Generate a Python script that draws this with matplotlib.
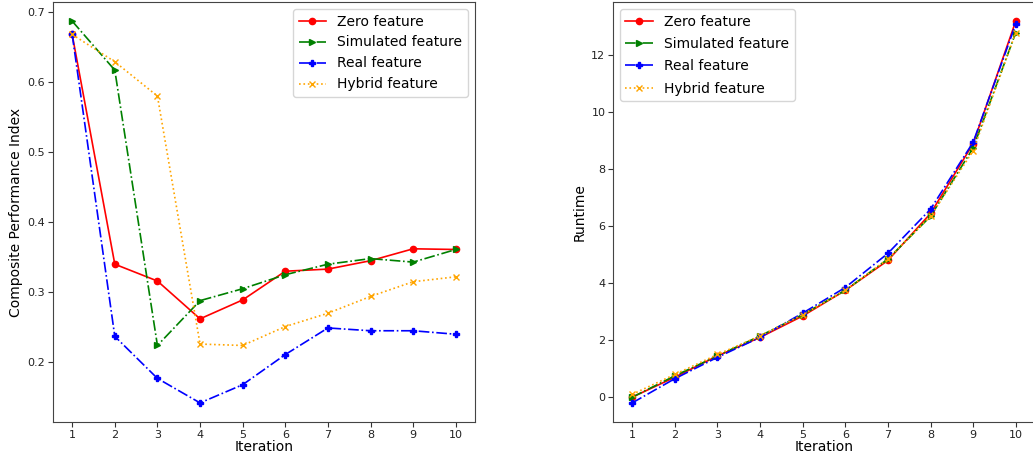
import matplotlib
matplotlib.use('Agg')
import matplotlib.pyplot as plt

iterations = list(range(1, 11))

# composite performance index per iteration
cpi_zero = [0.668, 0.340, 0.316, 0.262, 0.289, 0.330, 0.333, 0.345, 0.362, 0.361]
cpi_simulated = [0.687, 0.617, 0.224, 0.288, 0.305, 0.325, 0.340, 0.348, 0.343, 0.361]
cpi_real = [0.668, 0.237, 0.177, 0.142, 0.168, 0.211, 0.249, 0.245, 0.245, 0.240]
cpi_hybrid = [0.668, 0.629, 0.580, 0.226, 0.224, 0.251, 0.270, 0.294, 0.315, 0.322]

# runtime per iteration
rt_zero = [0.0, 0.70, 1.45, 2.10, 2.85, 3.75, 4.80, 6.45, 8.90, 13.20]
rt_simulated = [0.0, 0.75, 1.45, 2.15, 2.90, 3.75, 4.85, 6.35, 8.75, 12.80]
rt_real = [-0.2, 0.65, 1.40, 2.10, 2.95, 3.85, 5.05, 6.60, 8.95, 13.10]
rt_hybrid = [0.1, 0.80, 1.50, 2.15, 2.90, 3.75, 4.85, 6.35, 8.65, 12.80]

labels = ['Zero feature', 'Simulated feature', 'Real feature', 'Hybrid feature']
styles = [
    dict(color='red', linestyle='-', marker='o'),
    dict(color='green', linestyle='-.', marker='>'),
    dict(color='blue', linestyle='-.', marker='P'),
    dict(color='orange', linestyle=':', marker='x'),
]

fig = plt.figure(figsize=(10.33, 4.61), dpi=100)
ax1 = fig.add_axes([0.0513, 0.0846, 0.4085, 0.911])
ax2 = fig.add_axes([0.5934, 0.0846, 0.4085, 0.911])

for ys, lab, st in zip([cpi_zero, cpi_simulated, cpi_real, cpi_hybrid], labels, styles):
    ax1.plot(iterations, ys, label=lab, markersize=4.5, linewidth=1.2, **st)
for ys, lab, st in zip([rt_zero, rt_simulated, rt_real, rt_hybrid], labels, styles):
    ax2.plot(iterations, ys, label=lab, markersize=4.5, linewidth=1.2, **st)

ax1.set_xlabel('Iteration', fontsize=10, labelpad=0)
ax1.set_ylabel('Composite Performance Index', fontsize=10, labelpad=3)
ax2.set_xlabel('Iteration', fontsize=10, labelpad=0)
ax2.set_ylabel('Runtime', fontsize=10, labelpad=3)

for ax in (ax1, ax2):
    ax.set_xticks(iterations)
    ax.tick_params(labelsize=8, pad=2, color='#333333', labelcolor='#222222')
    for sp in ax.spines.values():
        sp.set_color('#444444')

ax1.legend(loc='upper right', fontsize=10)
ax2.legend(loc='upper left', fontsize=10, labelspacing=0.6)

plt.savefig('out.png', dpi=100)
